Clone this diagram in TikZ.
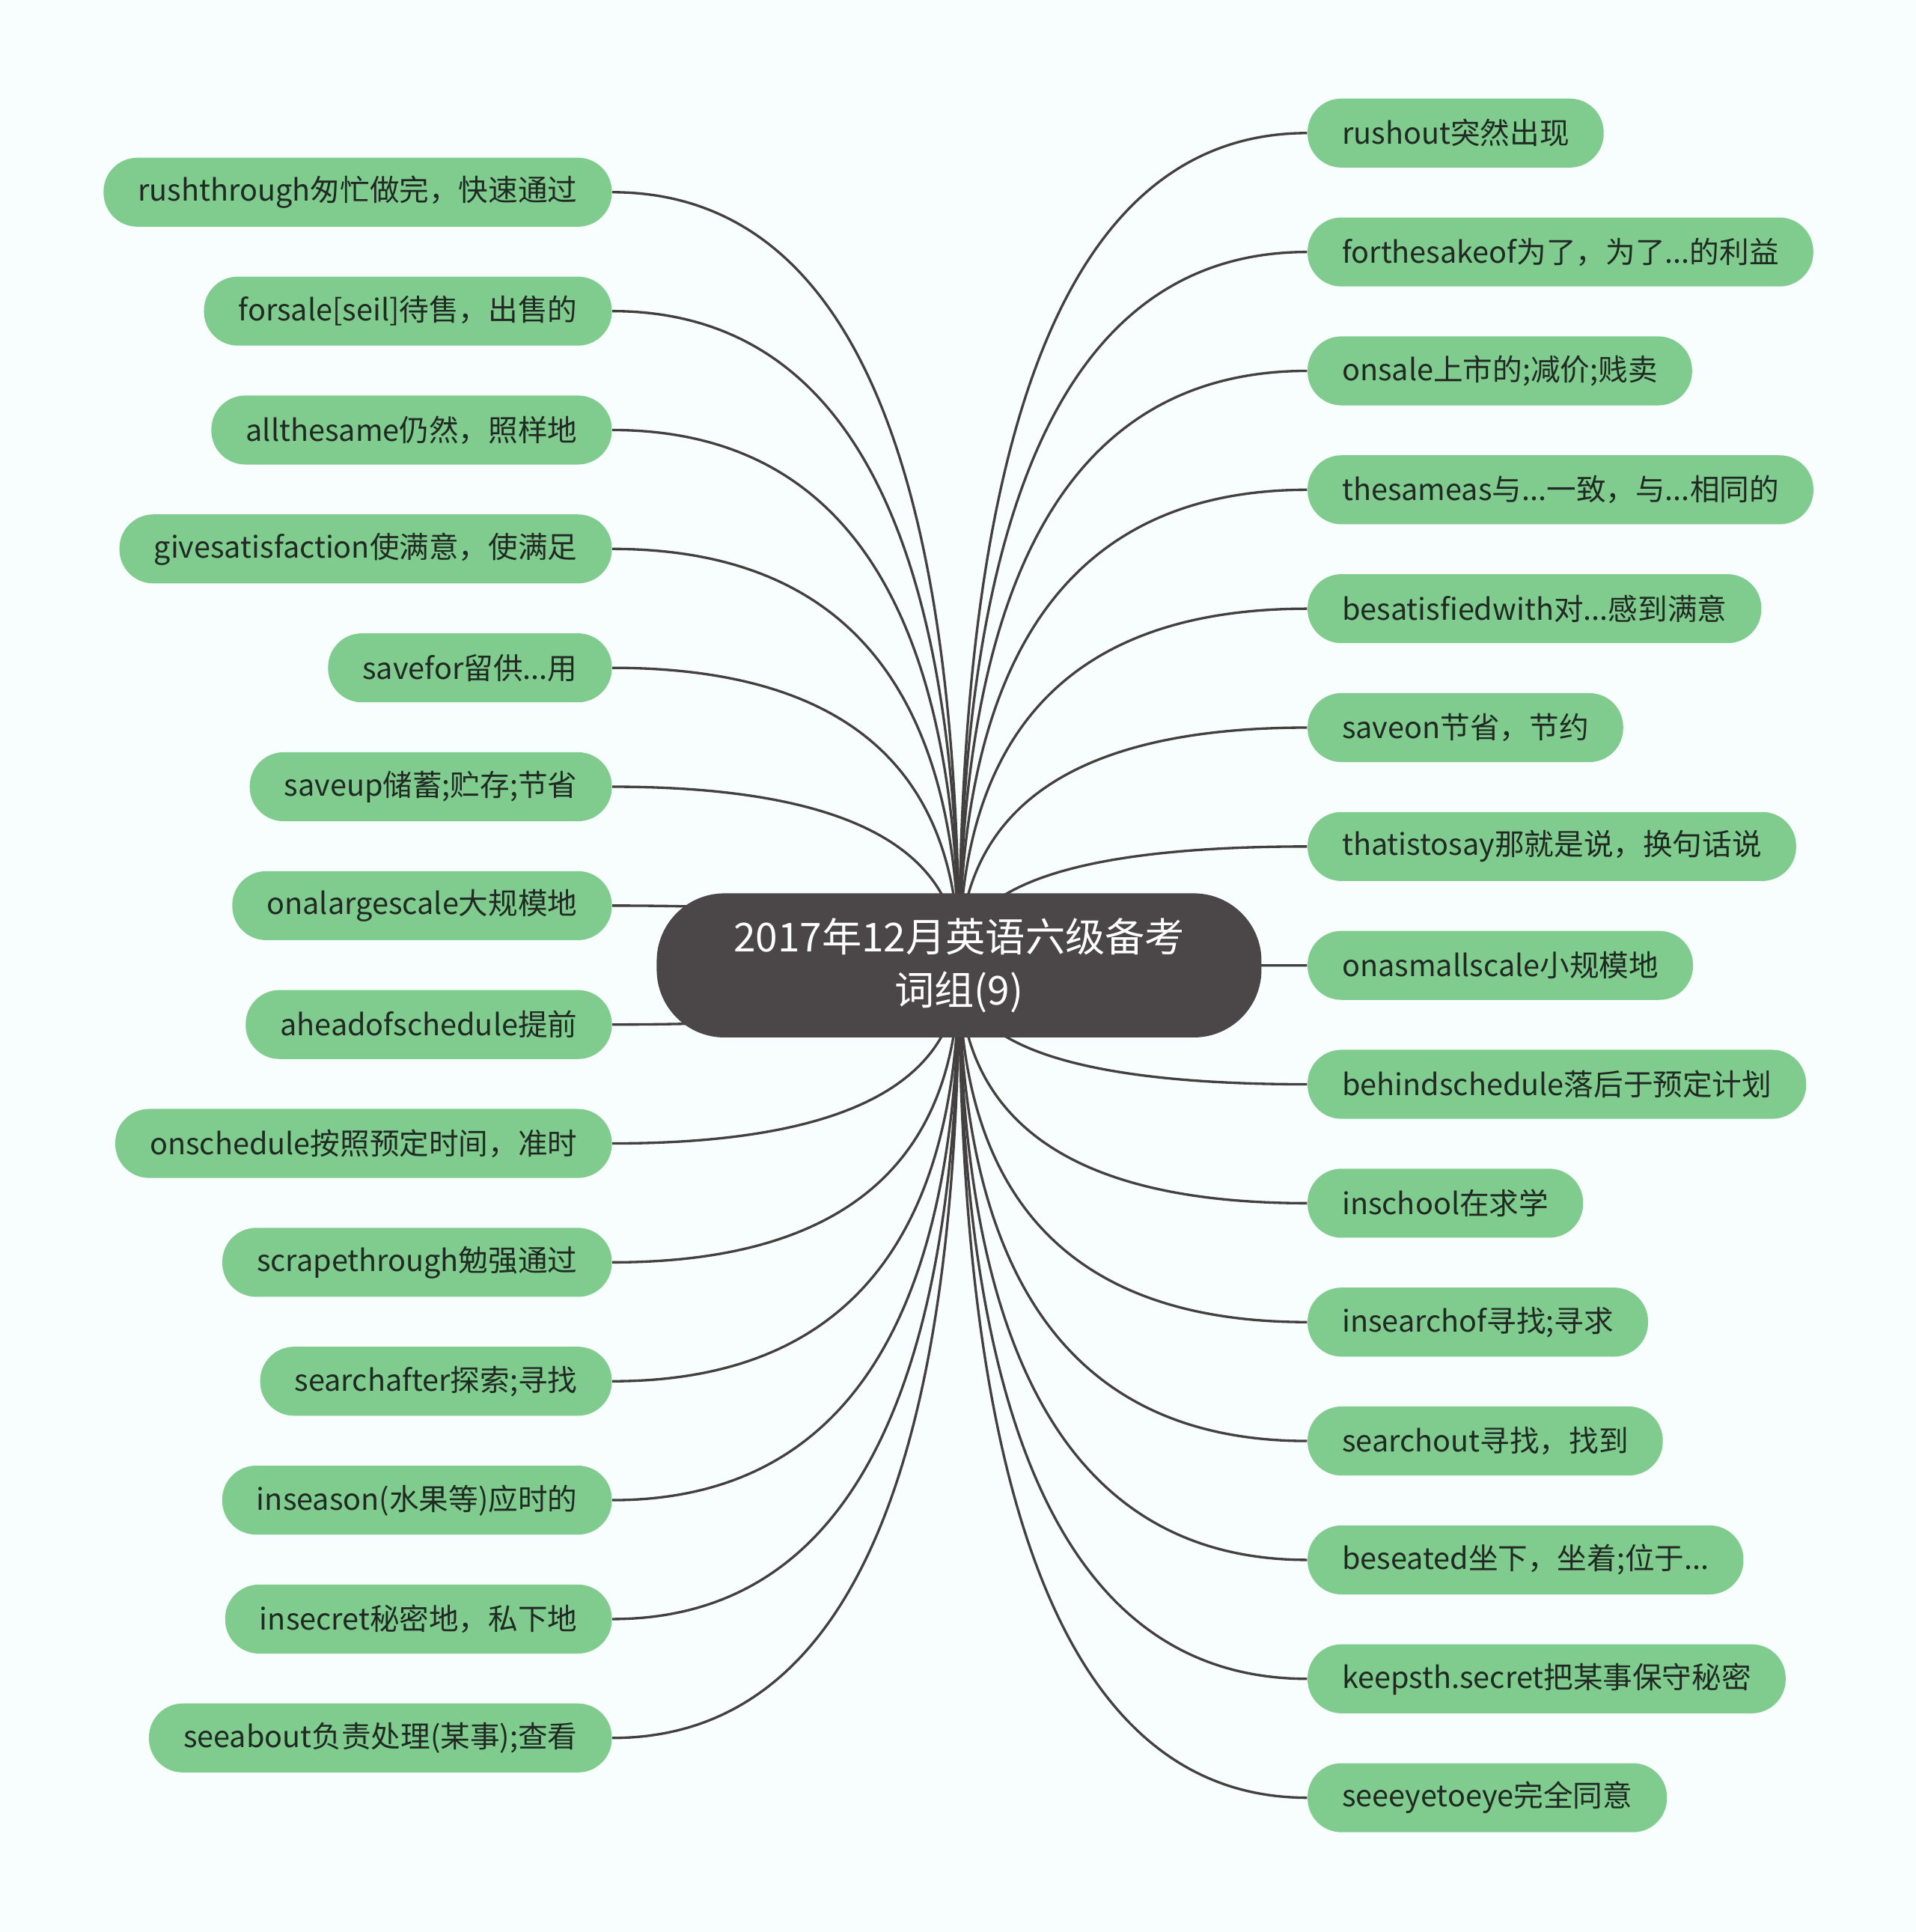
\documentclass[tikz,border=0pt]{standalone}
\usepackage{fontspec}
\setmainfont{Noto Sans CJK SC}
\usepackage{tikz}
\usetikzlibrary{positioning, backgrounds, calc}
\definecolor{pagebg}{RGB}{248, 254, 254}
\definecolor{leafgreen}{RGB}{127, 204, 142}
\definecolor{rootgray}{RGB}{75, 70, 71}
\definecolor{linkgray}{RGB}{68, 64, 64}
\definecolor{leaftext}{RGB}{32, 42, 35}

\begin{document}
\begin{tikzpicture}[
    x=0.02cm, y=-0.02cm,
    leaf/.style={rectangle, fill=leafgreen, text=leaftext, rounded corners=0.55cm, minimum height=1.12cm, inner xsep=0.56cm, inner ysep=0pt, font=\fontsize{13.7}{16}\selectfont},
    lleaf/.style={leaf, anchor=east},
    rleaf/.style={leaf, anchor=west},
    rootbox/.style={rectangle, fill=rootgray, text=white, rounded corners=1.1cm, minimum width=9.82cm, minimum height=2.34cm, align=center, font=\fontsize{18.4}{24.5}\selectfont},
    link/.style={draw=linkgray, line width=1.15pt,
      to path={.. controls ($(\tikztostart)!0.667!(\tikztostart |- \tikztotarget)$) and ($(\tikztotarget)!0.667!(\tikztostart |- \tikztotarget)$) .. (\tikztotarget)}}
  ]
    \useasboundingbox (0,0) rectangle (1555,1568);
    \node (root) [rootbox] at (778.5,783.5) {2017年12月英语六级备考\\词组(9)};

    % left side
    \node (l1) [lleaf] at (497,156) {rushthrough匆忙做完，快速通过};
    \node (l2) [lleaf] at (497,252.5) {forsale[seil]待售，出售的};
    \node (l3) [lleaf] at (497,349) {allthesame仍然，照样地};
    \node (l4) [lleaf] at (497,445.5) {givesatisfaction使满意，使满足};
    \node (l5) [lleaf] at (497,542) {savefor留供...用};
    \node (l6) [lleaf] at (497,638.5) {saveup储蓄;贮存;节省};
    \node (l7) [lleaf] at (497,735) {onalargescale大规模地};
    \node (l8) [lleaf] at (497,831.5) {aheadofschedule提前};
    \node (l9) [lleaf] at (497,928) {onschedule按照预定时间，准时};
    \node (l10) [lleaf] at (497,1024.5) {scrapethrough勉强通过};
    \node (l11) [lleaf] at (497,1121) {searchafter探索;寻找};
    \node (l12) [lleaf] at (497,1217.5) {inseason(水果等)应时的};
    \node (l13) [lleaf] at (497,1314) {insecret秘密地，私下地};
    \node (l14) [lleaf] at (497,1410.5) {seeabout负责处理(某事);查看};

    % right side
    \node (r1) [rleaf] at (1061,108) {rushout突然出现};
    \node (r2) [rleaf] at (1061,204.5) {forthesakeof为了，为了...的利益};
    \node (r3) [rleaf] at (1061,301) {onsale上市的;减价;贱卖};
    \node (r4) [rleaf] at (1061,397.5) {thesameas与...一致，与...相同的};
    \node (r5) [rleaf] at (1061,494) {besatisfiedwith对...感到满意};
    \node (r6) [rleaf] at (1061,590.5) {saveon节省，节约};
    \node (r7) [rleaf] at (1061,687) {thatistosay那就是说，换句话说};
    \node (r8) [rleaf] at (1061,783.5) {onasmallscale小规模地};
    \node (r9) [rleaf] at (1061,880) {behindschedule落后于预定计划};
    \node (r10) [rleaf] at (1061,976.5) {inschool在求学};
    \node (r11) [rleaf] at (1061,1073) {insearchof寻找;寻求};
    \node (r12) [rleaf] at (1061,1169.5) {searchout寻找，找到};
    \node (r13) [rleaf] at (1061,1266) {beseated坐下，坐着;位于...};
    \node (r14) [rleaf] at (1061,1362.5) {keepsth.secret把某事保守秘密};
    \node (r15) [rleaf] at (1061,1459) {seeeyetoeye完全同意};

    \begin{scope}[on background layer]
      \fill[pagebg] (0,0) rectangle (1555,1568);
      \draw[link] (root.center) to (l1.east);
      \draw[link] (root.center) to (l2.east);
      \draw[link] (root.center) to (l3.east);
      \draw[link] (root.center) to (l4.east);
      \draw[link] (root.center) to (l5.east);
      \draw[link] (root.center) to (l6.east);
      \draw[link] (root.center) to (l7.east);
      \draw[link] (root.center) to (l8.east);
      \draw[link] (root.center) to (l9.east);
      \draw[link] (root.center) to (l10.east);
      \draw[link] (root.center) to (l11.east);
      \draw[link] (root.center) to (l12.east);
      \draw[link] (root.center) to (l13.east);
      \draw[link] (root.center) to (l14.east);
      \draw[link] (root.center) to (r1.west);
      \draw[link] (root.center) to (r2.west);
      \draw[link] (root.center) to (r3.west);
      \draw[link] (root.center) to (r4.west);
      \draw[link] (root.center) to (r5.west);
      \draw[link] (root.center) to (r6.west);
      \draw[link] (root.center) to (r7.west);
      \draw[link] (root.center) to (r8.west);
      \draw[link] (root.center) to (r9.west);
      \draw[link] (root.center) to (r10.west);
      \draw[link] (root.center) to (r11.west);
      \draw[link] (root.center) to (r12.west);
      \draw[link] (root.center) to (r13.west);
      \draw[link] (root.center) to (r14.west);
      \draw[link] (root.center) to (r15.west);
    \end{scope}
  \end{tikzpicture}
\end{document}
